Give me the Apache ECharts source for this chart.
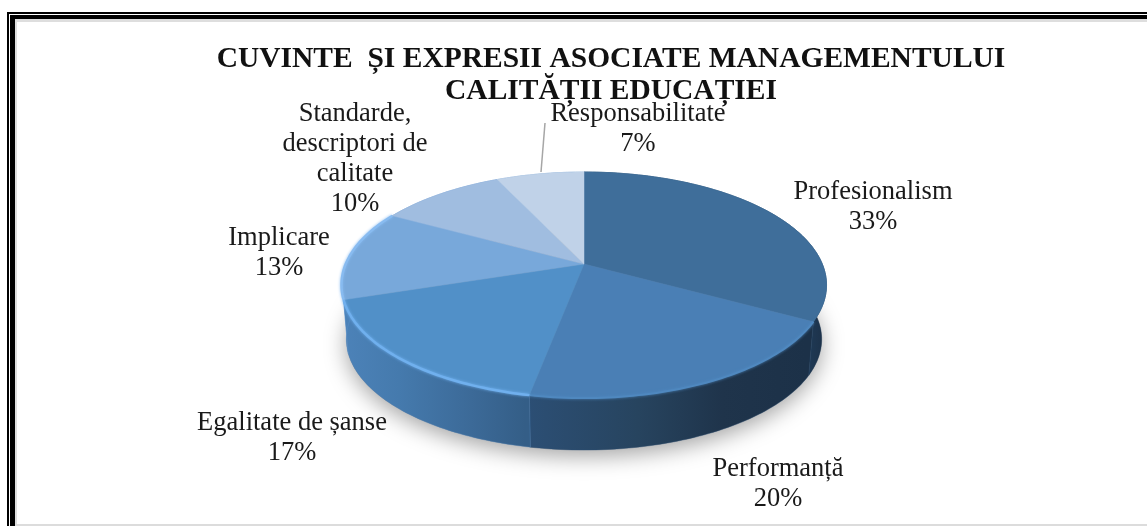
<!DOCTYPE html>
<html>
<head>
<meta charset="utf-8">
<style>html,body{margin:0;padding:0;background:#fff}#c{width:1147px;height:526px}</style>
<script src="https://cdn.jsdelivr.net/npm/echarts@6/dist/echarts.min.js"></script>
</head>
<body>
<div id="c"></div>
<script>
const titleLines = ['CUVINTE  ȘI EXPRESII ASOCIATE MANAGEMENTULUI', 'CALITĂȚII EDUCAȚIEI'];
const categories = ['Profesionalism', 'Performanță', 'Egalitate de șanse', 'Implicare', 'Standarde,\ndescriptori de\ncalitate', 'Responsabilitate'];
const values = [33, 20, 17, 13, 10, 7];

// Styles and layout, separate from the data
const topColors = ['#3f6e9a', '#4a7fb5', '#5190c8', '#78a8da', '#a0bde0', '#c0d2e8'];
const rimColors = ['#3f6e9a', '#4f88bf', '#70b0ee', '#88bbf0', '#a0bde0', '#c0d2e8'];
const rimWidths = [0.5, 2, 2.5, 2.5, 0.5, 0.5];
const rimBlurs = [0, 3, 3, 3, 0, 0];
const wallStops = [
  [[0, '#1f3a56'], [1, '#1c3047']],
  [[0, '#2c4f75'], [0.4, '#27445f'], [0.7, '#1f344b'], [1, '#1c3148']],
  [[0, '#4c82b8'], [0.3, '#457aad'], [0.7, '#3c6a98'], [1, '#345e87']],
  [[0, '#5a93cc'], [1, '#4c82b8']],
  [[0, '#5a93cc'], [1, '#5a93cc']],
  [[0, '#5a93cc'], [1, '#5a93cc']]
];
const wallRange = [[807, 827], [525, 807], [345, 525], [340, 345], [340, 345], [340, 345]];
const labelCenters = [[873, 190], [778, 467], [292, 421], [279, 236], [355, 112], [638, 112]];
const GEO = {cx: 584, cy: 264, A: 238.3, B: 109.1, k: -0.186, depth: 54.7, lowScale: 0.98};

const total = values.reduce((a, b) => a + b, 0);
let running = 0;
const sliceData = values.map((v, i) => { const d = [running, v, i]; running += v; return d; });

function rimPoint(share, low) {
  const a = share / total * Math.PI * 2;
  const u = Math.sin(a), v = -Math.cos(a);
  const d = 1 + GEO.k * v;
  const s = low ? GEO.lowScale : 1;
  return [GEO.cx + s * GEO.A * u / d, GEO.cy + (low ? GEO.depth : 0) + s * GEO.B * v / d];
}
function arc(from, to, low) {
  const pts = [];
  const n = Math.max(2, Math.ceil((to - from) * 3));
  for (let i = 0; i <= n; i++) pts.push(rimPoint(from + (to - from) * i / n, low));
  return pts;
}

function renderWall(params, api) {
  const from = api.value(0), to = from + api.value(1), i = api.value(2);
  const children = [];
  if (i === 0) {
    children.push({
      type: 'polygon',
      shape: {points: arc(0, total, true)},
      style: {fill: '#8a8a8a', shadowColor: 'rgba(0,0,0,0.36)', shadowBlur: 22, shadowOffsetY: 6}
    });
  }
  const poly = arc(from, to, false).concat(arc(from, to, true).reverse());
  children.push({
    type: 'polygon',
    shape: {points: poly},
    style: {
      fill: {type: 'linear', x: wallRange[i][0], y: 0, x2: wallRange[i][1], y2: 0, global: true,
        colorStops: wallStops[i].map(s => ({offset: s[0], color: s[1]}))},
      stroke: wallStops[i][0][1], lineWidth: 0.4
    }
  });
  return {type: 'group', children};
}

function renderFace(params, api) {
  const from = api.value(0), to = from + api.value(1), i = api.value(2);
  const rim = arc(from, to, false);
  return {type: 'group', children: [
    {type: 'polygon', shape: {points: [[GEO.cx, GEO.cy]].concat(rim)},
      style: {fill: topColors[i], stroke: topColors[i], lineWidth: 0.5}},
    {type: 'polyline', shape: {points: rim},
      style: {fill: null, stroke: rimColors[i], lineWidth: rimWidths[i], shadowColor: rimColors[i], shadowBlur: rimBlurs[i]}}
  ]};
}

function renderLabel(params, api) {
  const i = api.value(2);
  return {
    type: 'text',
    style: {
      x: labelCenters[i][0], y: labelCenters[i][1] - 13,
      text: categories[i] + '\n' + api.value(1) + '%',
      font: '26.5px "Liberation Serif"', lineHeight: 30,
      fill: '#1a1a1a', align: 'center', verticalAlign: 'top'
    }
  };
}

const chart = echarts.init(document.getElementById('c'), null, {renderer: 'canvas'});
chart.setOption({
  animation: false,
  backgroundColor: '#fff',
  title: {
    text: titleLines.join('\n'), left: 606, top: 38, textAlign: 'center',
    textStyle: {fontFamily: 'Liberation Serif', fontWeight: 'bold', fontSize: 29.5, lineHeight: 32, color: '#111'}
  },
  graphic: [
    {type: 'rect', shape: {x: 15, y: 19, width: 1132, height: 3}, style: {fill: '#dedede'}},
    {type: 'rect', shape: {x: 15, y: 19, width: 2, height: 507}, style: {fill: '#dedede'}},
    {type: 'rect', shape: {x: 15, y: 524, width: 1132, height: 2}, style: {fill: '#dcdcdc'}},
    {type: 'rect', shape: {x: 7, y: 12, width: 1140, height: 2}, style: {fill: '#000'}},
    {type: 'rect', shape: {x: 7, y: 12, width: 2, height: 514}, style: {fill: '#000'}},
    {type: 'rect', shape: {x: 10, y: 15, width: 1137, height: 4}, style: {fill: '#000'}},
    {type: 'rect', shape: {x: 10, y: 15, width: 5, height: 511}, style: {fill: '#000'}},
    {type: 'line', shape: {x1: 545, y1: 123, x2: 541, y2: 172}, style: {stroke: '#a6a6a6', lineWidth: 1.5}, z: 10}
  ],
  series: [
    {type: 'custom', coordinateSystem: 'none', silent: true, clip: false, z: 2, data: sliceData, renderItem: renderWall},
    {type: 'custom', coordinateSystem: 'none', silent: true, clip: false, z: 3, data: sliceData, renderItem: renderFace},
    {type: 'custom', coordinateSystem: 'none', silent: true, clip: false, z: 4, data: sliceData, renderItem: renderLabel}
  ]
});
</script>
</body>
</html>
